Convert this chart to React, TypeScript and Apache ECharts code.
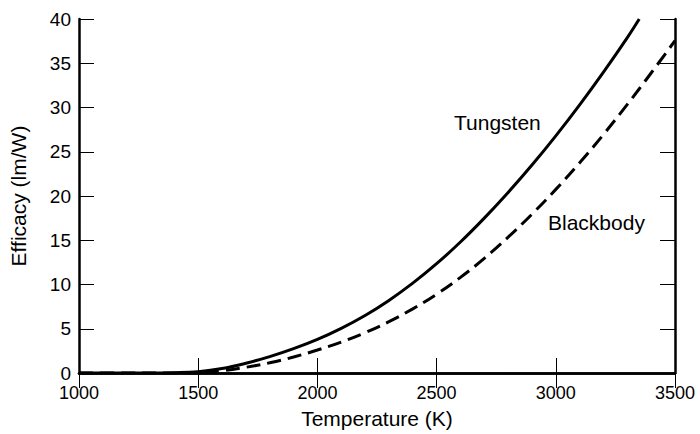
import React, { useEffect, useRef } from "react";
import * as echarts from "echarts";

const tungstenT = [1000, 1200, 1300, 1400, 1500, 1600, 1700, 1800, 1900, 2000, 2100, 2200, 2300, 2400, 2500, 2600, 2700, 2800, 2900, 3000, 3100, 3200, 3300, 3350];
const tungstenEff = [0, 0, 0, 0.03, 0.15, 0.5, 1.1, 1.85, 2.75, 3.8, 5.05, 6.5, 8.2, 10.15, 12.35, 14.8, 17.5, 20.4, 23.5, 26.8, 30.3, 34.0, 37.9, 40.0];

const blackbodyT = [1000, 1200, 1400, 1500, 1600, 1700, 1800, 1900, 2000, 2100, 2200, 2300, 2400, 2500, 2600, 2700, 2800, 2900, 3000, 3100, 3200, 3300, 3400, 3500];
const blackbodyEff = [0, 0, 0, 0.02, 0.25, 0.65, 1.15, 1.8, 2.6, 3.5, 4.55, 5.8, 7.25, 8.9, 10.8, 12.95, 15.35, 17.95, 20.75, 23.75, 26.95, 30.35, 33.9, 37.55];

const xTicks = [1000, 1500, 2000, 2500, 3000, 3500];
const yTicks = [0, 5, 10, 15, 20, 25, 30, 35, 40];

const xName = "Temperature (K)";
const yName = "Efficacy (lm/W)";
const labelTungsten = "Tungsten";
const labelBlackbody = "Blackbody";

const FONT = "'Liberation Sans', Arial, Helvetica, sans-serif";

export default function App() {
  const ref = useRef<HTMLDivElement>(null);
  useEffect(() => {
    if (!ref.current) return;
    const chart = echarts.init(ref.current, undefined, { renderer: "svg" });
    const frame = { show: true, lineStyle: { color: "#000", width: 2.5 } };
    const tick = { show: true, inside: true, length: 15, lineStyle: { color: "#000", width: 1 } };
    const xMin = xTicks[0], xMax = xTicks[xTicks.length - 1];
    const yMin = yTicks[0], yMax = yTicks[yTicks.length - 1];
    const xInt = xTicks[1] - xTicks[0];
    const yInt = yTicks[1] - yTicks[0];
    chart.setOption({
      animation: false,
      backgroundColor: "#fff",
      textStyle: { fontFamily: FONT },
      grid: { left: 76, right: 25, top: 19, bottom: 58 },
      xAxis: [
        {
          type: "value", min: xMin, max: xMax, interval: xInt, position: "bottom",
          axisLine: frame, axisTick: tick, splitLine: { show: false },
          axisLabel: { color: "#000", fontSize: 18, lineHeight: 15, margin: 12, fontFamily: FONT, formatter: (v: number) => String(v) },
          name: xName, nameLocation: "middle", nameGap: 35,
          nameTextStyle: { color: "#000", fontSize: 21, fontFamily: FONT },
        },
        {
          type: "value", min: xMin, max: xMax, interval: xInt, position: "top",
          axisLine: frame, axisTick: tick, splitLine: { show: false },
          axisLabel: { show: false },
        },
      ],
      yAxis: [
        {
          type: "value", min: yMin, max: yMax, interval: yInt, position: "left",
          axisLine: frame, axisTick: tick, splitLine: { show: false },
          axisLabel: { color: "#000", fontSize: 19, lineHeight: 14, margin: 8, fontFamily: FONT },
          name: yName, nameLocation: "middle", nameGap: 50,
          nameTextStyle: { color: "#000", fontSize: 21, fontFamily: FONT },
        },
        {
          type: "value", min: yMin, max: yMax, interval: yInt, position: "right",
          axisLine: frame, axisTick: tick, splitLine: { show: false },
          axisLabel: { show: false },
        },
      ],
      series: [
        {
          name: labelTungsten, type: "line", smooth: 0.4, showSymbol: false,
          data: tungstenT.map((t, i) => [t, tungstenEff[i]]),
          lineStyle: { color: "#000", width: 3 },
        },
        {
          name: labelBlackbody, type: "line", smooth: 0.4, showSymbol: false,
          data: blackbodyT.map((t, i) => [t, blackbodyEff[i]]),
          lineStyle: { color: "#000", width: 3, type: [14, 7] },
        },
      ],
      graphic: [
        { type: "text", left: 454, top: 112, style: { text: labelTungsten, fill: "#000", font: `21px ${FONT}` } },
        { type: "text", left: 548, top: 212, style: { text: labelBlackbody, fill: "#000", font: `21px ${FONT}` } },
      ],
    });
    return () => chart.dispose();
  }, []);
  return <div ref={ref} style={{ width: 700, height: 434, position: "absolute", left: 0, top: 0 }} />;
}
